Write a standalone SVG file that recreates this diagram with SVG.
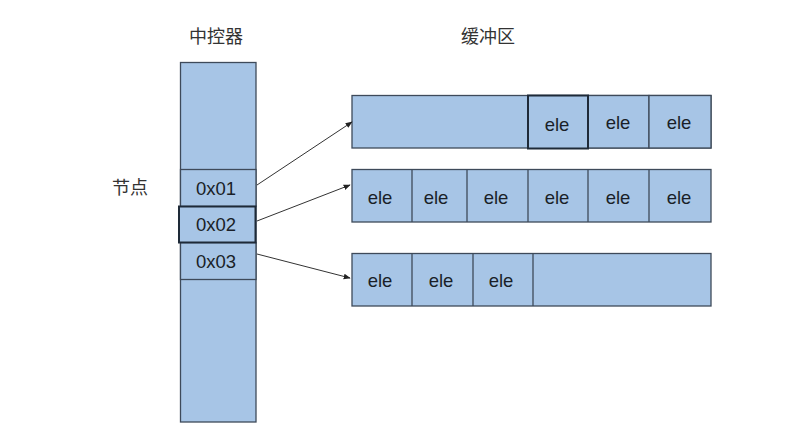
<svg xmlns="http://www.w3.org/2000/svg" width="796" height="445" viewBox="0 0 796 445">
<defs>
<style>
.box{fill:#a7c5e6;stroke:#3e4a5a;stroke-width:1.3}
.hl{fill:#a7c5e6;stroke:#1e2a38;stroke-width:2}
.t{font-family:"Liberation Sans",Arial,sans-serif;font-size:18.5px;fill:#1a1f28;text-anchor:middle}
.cn{font-family:"Noto Sans CJK SC","Liberation Sans",sans-serif;font-size:18px;fill:#333;text-anchor:middle}
.c{stroke:#333;stroke-width:1;fill:none;marker-end:url(#ah)}
</style>
<marker id="ah" viewBox="0 0 10 10" refX="9" refY="5" markerWidth="7" markerHeight="7" orient="auto" markerUnits="userSpaceOnUse">
<path d="M0,1 L10,5 L0,9 z" fill="#222"/>
</marker>
</defs>
<rect width="796" height="445" fill="#fff"/>
<text class="cn" x="216" y="43">中控器</text>
<text class="cn" x="488" y="43">缓冲区</text>
<text class="cn" x="130" y="194">节点</text>
<g id="controller">
<rect class="box" x="180.5" y="62.5" width="75.5" height="359.5"/>
</g>
<g id="node-0x01">
<rect class="box" x="180.5" y="169.5" width="75.5" height="37"/>
<text class="t" x="216" y="195">0x01</text>
</g>
<g id="node-0x03">
<rect class="box" x="180.5" y="242.5" width="75.5" height="37"/>
<text class="t" x="216" y="268">0x03</text>
</g>
<g id="node-0x02">
<rect class="hl" x="179" y="206.5" width="76.5" height="36"/>
<text class="t" x="216" y="231">0x02</text>
</g>
<g id="buffer-1">
<rect class="box" x="352" y="95.5" width="359" height="52.5"/>
<rect class="box" x="588" y="95.5" width="61" height="52.5"/>
<rect class="box" x="649" y="95.5" width="62" height="52.5"/>
<rect class="hl" x="528" y="95.5" width="60" height="53"/>
<text class="t" x="557" y="131">ele</text>
<text class="t" x="618" y="129">ele</text>
<text class="t" x="679" y="129">ele</text>
</g>
<g id="buffer-2">
<rect class="box" x="352" y="169.5" width="359" height="52.5"/>
<line class="box" x1="412" y1="169.5" x2="412" y2="222"/>
<line class="box" x1="467" y1="169.5" x2="467" y2="222"/>
<line class="box" x1="528" y1="169.5" x2="528" y2="222"/>
<line class="box" x1="588" y1="169.5" x2="588" y2="222"/>
<line class="box" x1="649" y1="169.5" x2="649" y2="222"/>
<text class="t" x="380" y="204">ele</text>
<text class="t" x="436" y="204">ele</text>
<text class="t" x="496" y="204">ele</text>
<text class="t" x="557" y="204">ele</text>
<text class="t" x="618" y="204">ele</text>
<text class="t" x="679" y="204">ele</text>
</g>
<g id="buffer-3">
<rect class="box" x="352" y="253.5" width="359" height="52.5"/>
<line class="box" x1="412" y1="253.5" x2="412" y2="306"/>
<line class="box" x1="473" y1="253.5" x2="473" y2="306"/>
<line class="box" x1="533" y1="253.5" x2="533" y2="306"/>
<text class="t" x="380" y="287">ele</text>
<text class="t" x="441" y="287">ele</text>
<text class="t" x="501" y="287">ele</text>
</g>
<g id="connectors">
<line class="c" x1="257" y1="185" x2="352" y2="122"/>
<line class="c" x1="257" y1="221" x2="350" y2="185"/>
<line class="c" x1="257" y1="254" x2="350" y2="278"/>
</g>
</svg>
